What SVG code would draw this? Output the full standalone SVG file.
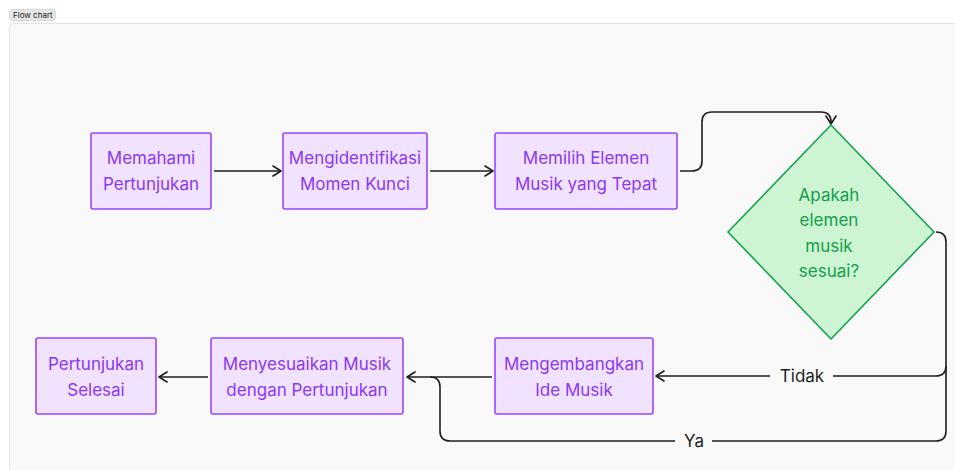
<svg xmlns="http://www.w3.org/2000/svg" width="955" height="470" viewBox="0 0 955 470">
<style>
.bg{fill:#ffffff}
.frame{fill:#f9f9f9;stroke:#e4e4e4;stroke-width:1}
.tag{fill:#e6e6e6;stroke:#d0d0d0;stroke-width:0.8}
.tagt{font-family:Inter,"Liberation Sans",sans-serif;font-size:8px;fill:#222}
.box{fill:#f1e2ff;stroke:#9747ff;stroke-width:1.6}
.bt{font-family:Inter,"Liberation Sans",sans-serif;font-size:17px;fill:#8a38f5;text-anchor:middle}
.dia{fill:#cdf5d3;stroke:#14a04b;stroke-width:1.6}
.dt{font-family:Inter,"Liberation Sans",sans-serif;font-size:17px;fill:#12a04a;text-anchor:middle}
.ln{fill:none;stroke:#1e1e1e;stroke-width:1.6}
.lt{font-family:Inter,"Liberation Sans",sans-serif;font-size:17px;fill:#1e1e1e;text-anchor:middle}
</style>
<defs>
<marker id="ah" viewBox="0 0 12 12" refX="11" refY="6" markerWidth="12" markerHeight="12" markerUnits="userSpaceOnUse" orient="auto">
<path d="M3,1 L11,6 L3,11" fill="none" stroke="#1e1e1e" stroke-width="1.6" stroke-linecap="round" stroke-linejoin="round"/>
</marker>
</defs>
<rect class="bg" x="0" y="0" width="955" height="470"/>
<rect class="frame" x="9.5" y="23.5" width="960" height="460" rx="4"/>
<g id="tag">
<rect class="tag" x="9.5" y="9.5" width="46" height="11" rx="3"/>
<text class="tagt" x="13" y="18">Flow chart</text>
</g>
<g id="connectors">
<path class="ln" d="M214,171 L281,171" marker-end="url(#ah)"/>
<path class="ln" d="M430,171 L493,171" marker-end="url(#ah)"/>
<path class="ln" d="M680,171 L692,171 Q702,171 702,161 L702,122 Q702,112 712,112 L821,112 Q831,112 831,122 L831,124" marker-end="url(#ah)"/>
<path class="ln" d="M936,232 Q946,232 946,242 L946,366 Q946,376 936,376 L833,376"/>
<path class="ln" d="M770,376 L656,376" marker-end="url(#ah)"/>
<path class="ln" d="M946,366 L946,431 Q946,441 936,441 L712,441"/>
<path class="ln" d="M675,441 L450,441 Q440,441 440,431 L440,387 Q440,377 430,377 L407,377" marker-end="url(#ah)"/>
<path class="ln" d="M492,377 L430,377"/>
<path class="ln" d="M208,377 L159,377" marker-end="url(#ah)"/>
<text class="lt" x="802" y="382">Tidak</text>
<text class="lt" x="694" y="447">Ya</text>
</g>
<g id="n1">
<rect class="box" x="91" y="133" width="120" height="76" rx="2"/>
<text class="bt" x="151" y="164">Memahami</text>
<text class="bt" x="151" y="190">Pertunjukan</text>
</g>
<g id="n2">
<rect class="box" x="283" y="133" width="144" height="76" rx="2"/>
<text class="bt" x="355" y="164">Mengidentifikasi</text>
<text class="bt" x="355" y="190">Momen Kunci</text>
</g>
<g id="n3">
<rect class="box" x="495" y="133" width="182" height="76" rx="2"/>
<text class="bt" x="586" y="164">Memilih Elemen</text>
<text class="bt" x="586" y="190">Musik yang Tepat</text>
</g>
<g id="n4">
<path class="dia" d="M831,125 L934,232 L831,339 L728,232 Z" stroke-linejoin="round"/>
<text class="dt" x="829" y="201">Apakah</text>
<text class="dt" x="829" y="226">elemen</text>
<text class="dt" x="829" y="252">musik</text>
<text class="dt" x="829" y="277">sesuai?</text>
</g>
<g id="n5">
<rect class="box" x="495" y="338" width="158" height="76" rx="2"/>
<text class="bt" x="574" y="370">Mengembangkan</text>
<text class="bt" x="574" y="396">Ide Musik</text>
</g>
<g id="n6">
<rect class="box" x="211" y="338" width="192" height="76" rx="2"/>
<text class="bt" x="307" y="370">Menyesuaikan Musik</text>
<text class="bt" x="307" y="396">dengan Pertunjukan</text>
</g>
<g id="n7">
<rect class="box" x="36" y="338" width="120" height="76" rx="2"/>
<text class="bt" x="96" y="370">Pertunjukan</text>
<text class="bt" x="96" y="396">Selesai</text>
</g>
</svg>
